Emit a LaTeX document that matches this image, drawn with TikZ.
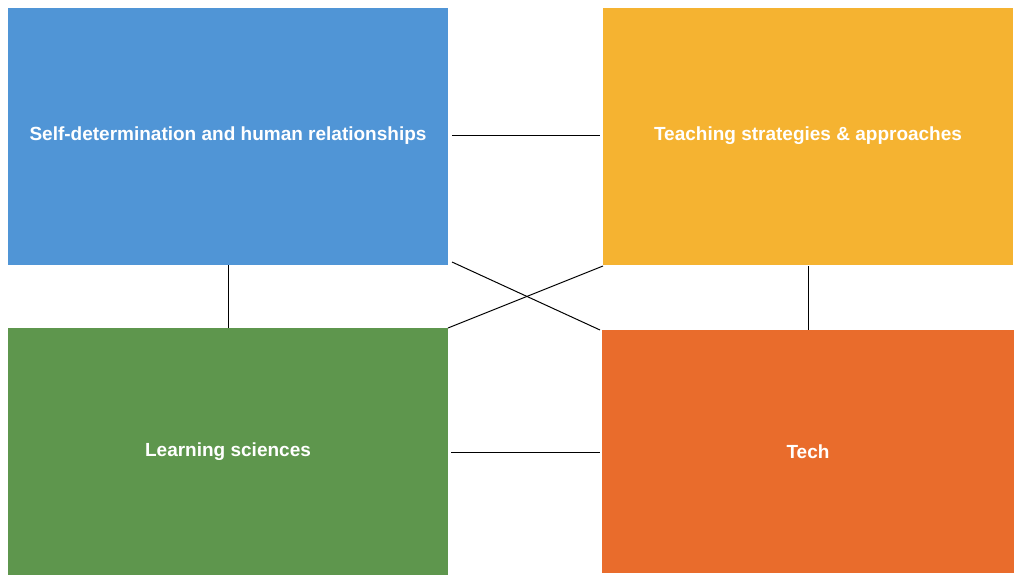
\documentclass[tikz,border=0pt]{standalone}
\usepackage{fontspec}
\setmainfont{Liberation Sans}
\definecolor{cblue}{HTML}{5095D6}
\definecolor{cyel}{HTML}{F5B331}
\definecolor{cgreen}{HTML}{5E964D}
\definecolor{corange}{HTML}{E96C2C}
\begin{document}
\begin{tikzpicture}[x=1pt,y=-1pt,
  box/.style={inner sep=0pt,text=white,font=\bfseries\fontsize{19}{22}\selectfont},
  conn/.style={draw=black,line width=1pt}]
\useasboundingbox[fill=white] (0,0) rectangle (1024,585);
\fill[cblue] (8,8) rectangle (448,265);
\fill[cyel] (603,8) rectangle (1013,265);
\fill[cgreen] (8,328) rectangle (448,575);
\fill[corange] (602,330) rectangle (1014,573);
\node[box] (a) at (228,136) {Self-determination and human relationships};
\node[box] (b) at (808,136) {Teaching strategies \& approaches};
\node[box] (c) at (228,452) {Learning sciences};
\node[box] (d) at (808,452) {Tech};
\coordinate (a1) at (452,136); \coordinate (b1) at (600,136);
\coordinate (a2) at (228,265); \coordinate (c2) at (228,328);
\coordinate (b2) at (808,266); \coordinate (d2) at (808,330);
\coordinate (c1) at (451,452); \coordinate (d1) at (600,452);
\coordinate (a3) at (452,262); \coordinate (d3) at (600,330);
\coordinate (c3) at (448,328); \coordinate (b3) at (603,266);
\draw[conn] (a1)--(b1);
\draw[conn] (a2)--(c2);
\draw[conn] (b2)--(d2);
\draw[conn] (c1)--(d1);
\draw[conn] (a3)--(d3);
\draw[conn] (c3)--(b3);
\end{tikzpicture}
\end{document}
